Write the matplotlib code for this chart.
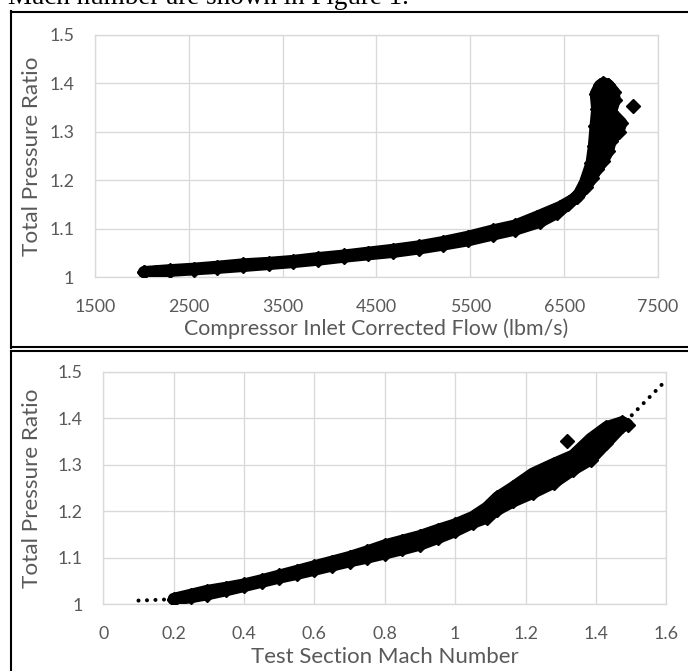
import matplotlib
matplotlib.use("Agg")
import matplotlib.pyplot as plt
from matplotlib.lines import Line2D

plt.rcParams['font.family'] = ['Lato', 'DejaVu Sans']

# ---- data ----
# top chart: edges of the dense scatter band (marker centres)
flow_upper = [2020, 2300, 2550, 2800, 3080, 3350, 3610, 3880, 4150, 4410, 4680,
              4950, 5210, 5480, 5745, 5980, 6210, 6456, 6640, 6720, 6790, 6815,
              6833, 6850, 6835, 6880, 6918, 6970]
pr_upper = [1.011, 1.015, 1.018, 1.022, 1.027, 1.030, 1.034, 1.040, 1.045, 1.051,
            1.057, 1.064, 1.073, 1.084, 1.097, 1.107, 1.125, 1.145, 1.165, 1.195,
            1.235, 1.270, 1.311, 1.346, 1.378, 1.395, 1.400, 1.396]
flow_lower = [2020, 2300, 2550, 2800, 3080, 3350, 3610, 3880, 4150, 4410, 4680,
              4950, 5210, 5480, 5745, 5980, 6243, 6420, 6540, 6650, 6730, 6795,
              6845, 6915, 6970, 6995, 7080, 7110, 7000, 7040, 7030, 6970]
pr_lower = [1.010, 1.013, 1.016, 1.019, 1.023, 1.027, 1.031, 1.036, 1.042, 1.047,
            1.052, 1.059, 1.067, 1.076, 1.088, 1.098, 1.114, 1.132, 1.150, 1.170,
            1.185, 1.205, 1.222, 1.240, 1.260, 1.280, 1.300, 1.318, 1.340, 1.365,
            1.382, 1.396]
flow_outlier = [7230]
pr_flow_outlier = [1.352]

# bottom chart: same band against Mach number
mach_upper = [0.20, 0.25, 0.294, 0.35, 0.40, 0.45, 0.50, 0.55, 0.60, 0.65, 0.70,
              0.75, 0.80, 0.85, 0.90, 0.95, 1.00, 1.05, 1.09, 1.12, 1.165, 1.22,
              1.28, 1.335, 1.385, 1.43, 1.475, 1.49]
pr_mach_upper = [1.012, 1.021, 1.029, 1.036, 1.043, 1.052, 1.062, 1.072, 1.082,
                 1.092, 1.102, 1.114, 1.127, 1.137, 1.147, 1.160, 1.172, 1.188,
                 1.208, 1.230, 1.252, 1.281, 1.302, 1.320, 1.356, 1.381, 1.392, 1.386]
mach_lower = [0.20, 0.25, 0.294, 0.35, 0.40, 0.45, 0.50, 0.55, 0.60, 0.65, 0.70,
              0.75, 0.80, 0.85, 0.90, 0.95, 1.00, 1.05, 1.09, 1.12, 1.165, 1.22,
              1.28, 1.335, 1.385, 1.43, 1.475]
pr_mach_lower = [1.010, 1.015, 1.021, 1.030, 1.039, 1.048, 1.057, 1.065, 1.074,
                 1.083, 1.092, 1.100, 1.109, 1.118, 1.128, 1.142, 1.157, 1.175,
                 1.186, 1.203, 1.221, 1.239, 1.261, 1.289, 1.311, 1.347, 1.383]
mach_outlier = [1.318]
pr_mach_outlier = [1.351]

# dotted trendline (visible only at both ends)
mach_trend = [0.10, 0.20, 0.40, 0.60, 0.80, 1.00, 1.20, 1.40, 1.50, 1.60]
pr_trend = [1.008, 1.011, 1.041, 1.078, 1.118, 1.165, 1.250, 1.350, 1.405, 1.482]

flow_ticks = [1500, 2500, 3500, 4500, 5500, 6500, 7500]
mach_ticks = [0, 0.2, 0.4, 0.6, 0.8, 1.0, 1.2, 1.4, 1.6]
mach_tick_labels = ['0', '0.2', '0.4', '0.6', '0.8', '1', '1.2', '1.4', '1.6']
pr_ticks = [1.0, 1.1, 1.2, 1.3, 1.4, 1.5]
pr_tick_labels = ['1', '1.1', '1.2', '1.3', '1.4', '1.5']

TXT = '#595959'
GRID = '#D9D9D9'
W, H = 688, 671


def px_box(left, top, right, bottom):
    return [left / W, 1 - bottom / H, (right - left) / W, (bottom - top) / H]


def style_axes(ax):
    ax.set_axisbelow(True)
    ax.grid(True, color=GRID, linewidth=0.95)
    for sp in ax.spines.values():
        sp.set_color(GRID)
        sp.set_linewidth(0.95)
    ax.tick_params(length=0, labelsize=12.8, labelcolor=TXT)
    ax.tick_params(axis='x', pad=15.5)
    ax.tick_params(axis='y', pad=15)
    ax.set_yticks(pr_ticks)
    ax.set_yticklabels(pr_tick_labels)
    ax.set_ylim(1.0, 1.5)


def draw_band(ax, xu, yu, xl, yl):
    poly_x = list(xu) + list(xl)[::-1]
    poly_y = list(yu) + list(yl)[::-1]
    ax.fill(poly_x, poly_y, facecolor='black', edgecolor='black',
            linewidth=8.5, joinstyle='round', zorder=3)
    ax.plot(xu, yu, 'D', ms=7, color='black', zorder=4)
    ax.plot(xl, yl, 'D', ms=7, color='black', zorder=4)


fig = plt.figure(figsize=(6.88, 6.71), dpi=100)

# top chart
ax1 = fig.add_axes(px_box(95, 34.5, 658, 277.3))
style_axes(ax1)
draw_band(ax1, flow_upper, pr_upper, flow_lower, pr_lower)
ax1.plot(flow_outlier, pr_flow_outlier, 'D', ms=7, color='black', zorder=4)
ax1.set_xlim(1500, 7500)
ax1.set_xticks(flow_ticks)

# bottom chart
ax2 = fig.add_axes(px_box(103.3, 371.7, 666.3, 604.3))
style_axes(ax2)
ax2.plot(mach_trend, pr_trend, color='black', linewidth=2.9,
         dashes=(0.01, 2.1), dash_capstyle='round', zorder=2)
draw_band(ax2, mach_upper, pr_mach_upper, mach_lower, pr_mach_lower)
ax2.plot(mach_outlier, pr_mach_outlier, 'D', ms=7, color='black', zorder=4)
ax2.set_xlim(0, 1.6)
ax2.set_xticks(mach_ticks)
ax2.set_xticklabels(mach_tick_labels)

# axis titles
fig.text(32 / W, 1 - 156 / H, 'Total Pressure Ratio', rotation=90,
         ha='center', va='center', fontsize=16.2, color=TXT)
fig.text(32 / W, 1 - 488 / H, 'Total Pressure Ratio', rotation=90,
         ha='center', va='center', fontsize=16.2, color=TXT)
fig.text(376.5 / W, 1 - 329 / H, 'Compressor Inlet Corrected Flow (lbm/s)',
         ha='center', va='center', fontsize=15.4, color=TXT)
fig.text(384.8 / W, 1 - 657 / H, 'Test Section Mach Number',
         ha='center', va='center', fontsize=16.0, color=TXT)

# cut-off document line above the figure
fig.text(8 / W, 1 - 4.5 / H, 'Mach number are shown in Figure 1.',
         family='Liberation Serif', fontsize=19.5, color='black',
         ha='left', va='baseline')

# panel frames from the document
def frame_line(x0, y0, x1, y1, lw=1.5):
    fig.add_artist(Line2D([x0 / W, x1 / W], [1 - y0 / H, 1 - y1 / H],
                          color='black', linewidth=lw))

frame_line(11, 11.5, W, 11.5)
frame_line(11.5, 11, 11.5, 347.5)
frame_line(11, 347.3, W, 347.3)
frame_line(11, 351, W, 351)
frame_line(11.5, 351, 11.5, H)

fig.savefig('out.png', dpi=100)
